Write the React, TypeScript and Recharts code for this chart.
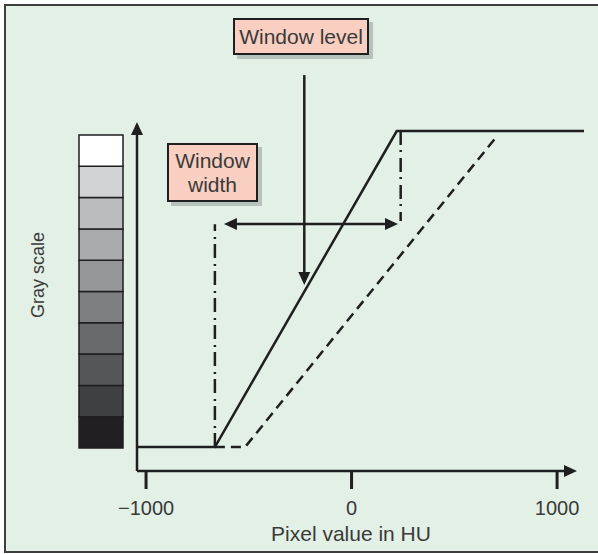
import { Bar, BarChart, Line, LineChart, ReferenceLine, XAxis, YAxis } from "recharts";

// transfer curve (HU -> gray level 0..1)
const windowCurve = [
  { hu: -1044, v: 0 },
  { hu: -665, v: 0 },
  { hu: 220, v: 1 },
  { hu: 1131, v: 1 },
];
const widerCurve = [
  { hu: -665, v: 0 },
  { hu: -518, v: 0 },
  { hu: 708, v: 0.984 },
];
const huTicks = [-1000, 0, 1000];

// markers
const windowLeft = -665;
const windowRight = 239;
const windowLevel = -230;
const widthArrow = { from: -621, to: 226, at: 0.706 };
const levelArrow = { top: 1.177, tip: 0.513 };

// gray scale steps, dark to light (drawn bottom up)
const grayLevels = [
  "#211f21", "#3e4042", "#545658", "#67696b", "#7d7f81",
  "#949698", "#a9abad", "#babcbe", "#d2d3d5", "#ffffff",
];
const grayRow = [{ name: "gray", ...Object.fromEntries(grayLevels.map((_, i) => [`g${i}`, 1])) }];

const X_DOMAIN: [number, number] = [-1044, 1131];
const Y_DOMAIN: [number, number] = [-0.0759, 1.0285];
const INK = "#1f1f1f";
const TEXT = "#3a3a3a";
const FONT = "'Liberation Sans', Arial, sans-serif";

function fmtHu(v: number) {
  return v < 0 ? `\u2212${Math.abs(v)}` : String(v);
}

function Arrow(props: any) {
  const { x1, y1, x2, y2, both } = props;
  const head = 13;
  const half = 6;
  const len = Math.hypot(x2 - x1, y2 - y1) || 1;
  const ux = (x2 - x1) / len;
  const uy = (y2 - y1) / len;
  const tri = (tx: number, ty: number, dx: number, dy: number) => {
    const bx = tx - head * dx;
    const by = ty - head * dy;
    return `${tx},${ty} ${bx - half * dy},${by + half * dx} ${bx + half * dy},${by - half * dx}`;
  };
  const sx = both ? x1 + (head - 1) * ux : x1;
  const sy = both ? y1 + (head - 1) * uy : y1;
  return (
    <g>
      <line
        x1={sx}
        y1={sy}
        x2={x2 - (head - 1) * ux}
        y2={y2 - (head - 1) * uy}
        stroke={INK}
        strokeWidth={2.5}
      />
      <polygon points={tri(x2, y2, ux, uy)} fill={INK} />
      {both && <polygon points={tri(x1, y1, -ux, -uy)} fill={INK} />}
    </g>
  );
}

const labelBox = {
  position: "absolute" as const,
  background: "#f8cfc0",
  border: `2px solid ${INK}`,
  boxShadow: "4px 4px 0 #b8c2bd",
  boxSizing: "border-box" as const,
  color: TEXT,
  fontFamily: FONT,
  fontSize: 21,
  textAlign: "center" as const,
};

export default function App() {
  return (
    <div style={{ position: "absolute", left: 0, top: 0, width: 598, height: 554, background: "#fff", overflow: "hidden" }}>
      <div
        style={{
          position: "absolute",
          left: 4,
          top: 4,
          width: 600,
          height: 549,
          boxSizing: "border-box",
          background: "#e2f0e6",
          borderLeft: "2.5px solid #3d3d3d",
          borderTop: "2.5px solid #3d3d3d",
          borderBottom: "2.5px solid #3d3d3d",
        }}
      />

      <div style={{ position: "absolute", left: 0, top: 0 }}>
        <LineChart width={598} height={554} margin={{ top: 122, right: 14, bottom: 23, left: 137 }}>
          <XAxis
            type="number"
            dataKey="hu"
            domain={X_DOMAIN}
            allowDataOverflow
            ticks={huTicks}
            tickFormatter={fmtHu}
            axisLine={false}
            tickLine={{ stroke: INK, strokeWidth: 3 }}
            tickSize={18}
            tickMargin={12}
            height={60}
            tick={{ fontSize: 20, fill: TEXT, fontFamily: FONT }}
          />
          <YAxis type="number" dataKey="v" domain={Y_DOMAIN} allowDataOverflow hide />

          {/* axes with arrowheads */}
          <ReferenceLine
            segment={[{ x: X_DOMAIN[0], y: Y_DOMAIN[0] }, { x: 1097, y: Y_DOMAIN[0] }]}
            ifOverflow="visible"
            shape={(p: any) => <Arrow {...p} />}
          />
          <ReferenceLine
            segment={[{ x: X_DOMAIN[0], y: Y_DOMAIN[0] }, { x: X_DOMAIN[0], y: Y_DOMAIN[1] }]}
            ifOverflow="visible"
            shape={(p: any) => <Arrow {...p} />}
          />

          {/* window edges */}
          <ReferenceLine
            segment={[{ x: windowLeft, y: 0 }, { x: windowLeft, y: 0.705 }]}
            ifOverflow="visible"
            stroke={INK}
            strokeWidth={2.5}
            strokeDasharray="14 5 2 6"
          />
          <ReferenceLine
            segment={[{ x: windowRight, y: 1 }, { x: windowRight, y: 0.715 }]}
            ifOverflow="visible"
            stroke={INK}
            strokeWidth={2.5}
            strokeDasharray="14 5 2 6"
          />

          <ReferenceLine
            segment={[{ x: widthArrow.from, y: widthArrow.at }, { x: widthArrow.to, y: widthArrow.at }]}
            ifOverflow="visible"
            shape={(p: any) => <Arrow {...p} both />}
          />
          <ReferenceLine
            segment={[{ x: windowLevel, y: levelArrow.top }, { x: windowLevel, y: levelArrow.tip }]}
            ifOverflow="visible"
            shape={(p: any) => <Arrow {...p} />}
          />

          <Line
            data={widerCurve}
            dataKey="v"
            type="linear"
            stroke={INK}
            strokeWidth={2.5}
            strokeDasharray="10 6"
            dot={false}
            isAnimationActive={false}
          />
          <Line
            data={windowCurve}
            dataKey="v"
            type="linear"
            stroke={INK}
            strokeWidth={2.5}
            dot={false}
            isAnimationActive={false}
          />
        </LineChart>
      </div>

      <div style={{ position: "absolute", left: 78, top: 134 }}>
        <BarChart width={46} height={315} data={grayRow} margin={{ top: 1, right: 1, bottom: 1, left: 1 }} barCategoryGap={0}>
          <XAxis dataKey="name" type="category" hide />
          <YAxis type="number" domain={[0, grayLevels.length]} hide />
          {grayLevels.map((c, i) => (
            <Bar key={c} dataKey={`g${i}`} stackId="gray" fill={c} stroke={INK} strokeWidth={1.5} isAnimationActive={false} />
          ))}
        </BarChart>
      </div>

      <svg width={598} height={554} style={{ position: "absolute", left: 0, top: 0, pointerEvents: "none" }}>
        <text x={351} y={541} textAnchor="middle" fontSize={21} fill={TEXT} fontFamily={FONT}>
          Pixel value in HU
        </text>
        <text
          x={44}
          y={275}
          transform="rotate(-90 44 275)"
          textAnchor="middle"
          fontSize={18}
          fill={TEXT}
          fontFamily={FONT}
        >
          Gray scale
        </text>
      </svg>

      <div style={{ ...labelBox, left: 233, top: 18, width: 136, height: 37, lineHeight: "33px" }}>Window level</div>
      <div style={{ ...labelBox, left: 167, top: 143, width: 91, height: 59, lineHeight: "24px", paddingTop: 4 }}>
        Window
        <br />
        width
      </div>
    </div>
  );
}
